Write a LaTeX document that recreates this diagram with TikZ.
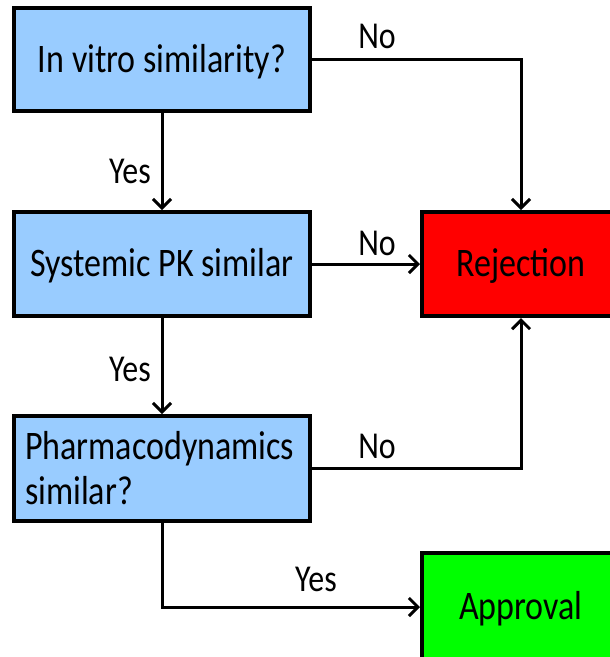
\documentclass[tikz,border=0pt]{standalone}
\usepackage{fontspec}
\setmainfont{Carlito}[FakeStretch=0.84]
\usetikzlibrary{arrows.meta}
\definecolor{boxblue}{RGB}{153,204,255}
\definecolor{rejred}{RGB}{255,0,0}
\definecolor{appgreen}{RGB}{0,255,0}
\tikzset{
  x=1pt,y=-1pt,
  stepbox/.style={draw=black,line width=4pt,minimum width=296pt,inner sep=0pt,font=\fontsize{40.5}{45}\selectfont},
  onel/.style={text depth=3pt},
  conn/.style={line width=3pt,-{Straight Barb[length=9pt,width=18pt]}},
  lbl/.style={font=\fontsize{38}{44}\selectfont,inner sep=0pt},
}
\begin{document}
\begin{tikzpicture}
\useasboundingbox (0,0) rectangle (610,657);
\clip (0,0) rectangle (610,657);
\node[stepbox,onel,fill=boxblue,minimum height=103pt] (a) at (162,59.5) {In vitro similarity?};
\node[stepbox,onel,fill=boxblue,minimum height=104pt] (b) at (162,264) {Systemic PK similar};
\node[stepbox,fill=boxblue,minimum height=105pt,align=left,text width=274pt] (c) at (162,468.5) {Pharmacodynamics\\similar?};
\node[stepbox,onel,fill=rejred,minimum width=198pt,minimum height=104pt] (r) at (521,264) {Rejection};
\node[stepbox,onel,fill=appgreen,minimum width=198pt,minimum height=108pt] (p) at (521,607) {Approval};
\coordinate (k1) at (521,59.5);
\coordinate (k2) at (521,468.5);
\coordinate (k3) at (162,607);
\draw[conn] (a.east) -- (k1) -- (r.north);
\draw[conn] (a.south) -- (b.north);
\draw[conn] (b.east) -- (r.west);
\draw[conn] (b.south) -- (c.north);
\draw[conn] (c.east) -- (k2) -- (r.south);
\draw[conn] (c.south) -- (k3) -- (p.west);
\node[lbl] (n1) at (377,36) {No};
\node[lbl] (y1) at (130,171) {Yes};
\node[lbl] (n2) at (377,243) {No};
\node[lbl] (y2) at (130,369) {Yes};
\node[lbl] (n3) at (377,446) {No};
\node[lbl] (y3) at (316,579) {Yes};
\end{tikzpicture}
\end{document}
